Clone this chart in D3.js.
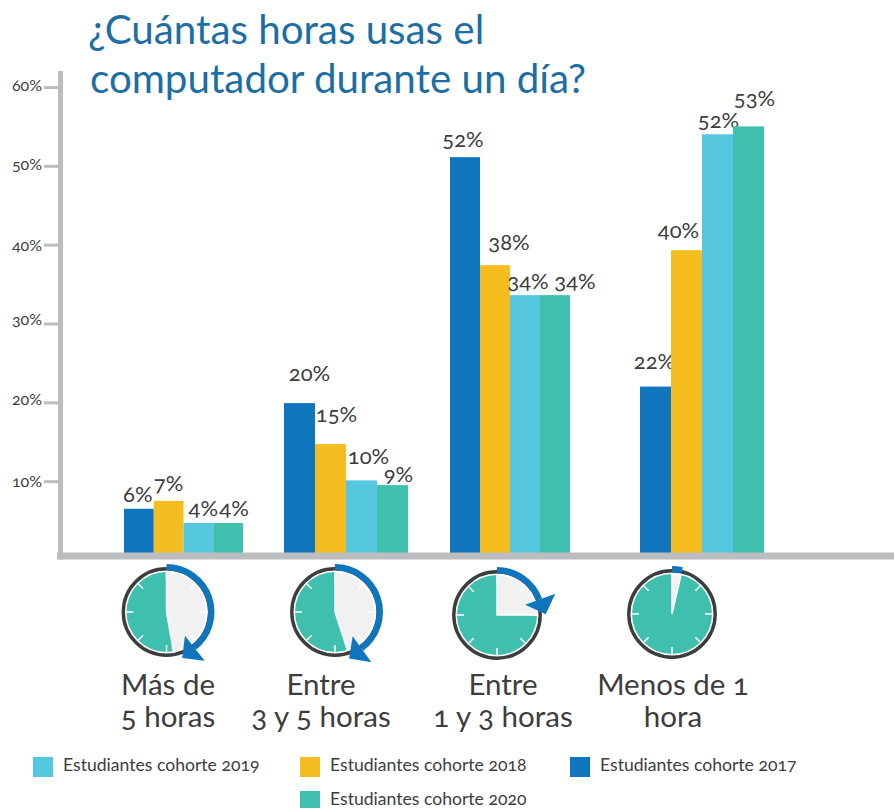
<!DOCTYPE html>
<html>
<head>
<meta charset="utf-8">
<script src="https://cdn.jsdelivr.net/npm/d3@7"></script>
<style>
  html, body { margin: 0; padding: 0; background: #fff; }
  svg { display: block; }
  text { font-family: Lato, "Open Sans", sans-serif; fill: #3d3d3d; font-feature-settings: "onum" 1; }
</style>
</head>
<body>
<svg></svg>
<script>
// data
var categories = ["Más de 5 horas", "Entre 3 y 5 horas", "Entre 1 y 3 horas", "Menos de 1 hora"];
var categoryLines = [["Más de", "5 horas"], ["Entre", "3 y 5 horas"], ["Entre", "1 y 3 horas"], ["Menos de 1", "hora"]];
var cohorts = ["2017", "2018", "2019", "2020"];
// bar heights as drawn (they do not quite agree with the printed labels)
var values2017 = [6.5, 19.9, 51.1, 22];
var values2018 = [7.5, 14.7, 37.4, 39.3];
var values2019 = [4.7, 10.1, 33.6, 54];
var values2020 = [4.7, 9.5, 33.6, 55];
// printed labels
var labels2017 = ["6%", "20%", "52%", "22%"];
var labels2018 = ["7%", "15%", "38%", "40%"];
var labels2019 = ["4%", "10%", "34%", "52%"];
var labels2020 = ["4%", "9%", "34%", "53%"];
var tickValues = [10, 20, 30, 40, 50, 60];
// clock faces: degrees of the pale sector and of the blue arrow
var clockSector = [170, 162, 90, 13];
var clockArrow = [142, 144, 70, 13];
var legendOrder = ["2019", "2018", "2017", "2020"];

var allValues = [values2017, values2018, values2019, values2020];
var allLabels = [labels2017, labels2018, labels2019, labels2020];

var svgWidth = 894, svgHeight = 808;
var colors = { "2017": "#0f75bc", "2018": "#f6bd21", "2019": "#55c8e0", "2020": "#3fbfae" };
var axisGray = "#bcbdbf", titleBlue = "#1c6ea4";

// layout
var axisTop = 553;
var groupEdges = [[124, 243], [284, 408], [450, 570], [640, 764]];
var clockCenters = [[166.5, 612], [335, 612], [497, 615], [672, 614]];
var categoryCenters = [168, 321, 503, 673];
var legendSlots = [[33, 757], [300, 757], [570, 757], [300, 791]];
// label offsets [dx, dy] from the top centre of each bar, by cohort then group
var labelShift = [
  [[-1, -7], [10, -22], [-2, -10], [-1, -18]],
  [[0, -10], [6, -22], [14, -15], [-8, -12]],
  [[5, -7], [7, -16], [3, -6], [1, -6]],
  [[6, -7], [6, -3], [20, -6], [6, -20]]
];
// the tick labels do not sit quite level with their ticks
var tickLabelShift = [0, -3, -4, 1, -1, -2];

var svg = d3.select("svg")
  .attr("width", svgWidth)
  .attr("height", svgHeight);

// scales
var yScale = d3.scaleLinear().domain([0, 60]).range([560, 87]);
var groupScale = d3.scaleOrdinal().domain(categories).range(groupEdges);

function barScale(category) {
  return d3.scaleBand().domain(cohorts).range(groupScale(category));
}

// bars
cohorts.forEach(function (cohort, s) {
  svg.append("g").selectAll("rect")
    .data(allValues[s])
    .enter()
    .append("rect")
    .attr("x", function (d, i) { return barScale(categories[i])(cohort); })
    .attr("width", function (d, i) { return barScale(categories[i]).bandwidth(); })
    .attr("y", function (d) { return yScale(d); })
    .attr("height", function (d) { return axisTop - yScale(d); })
    .attr("fill", colors[cohort]);

  svg.append("g").selectAll("text")
    .data(allLabels[s])
    .enter()
    .append("text")
    .text(function (d) { return d; })
    .attr("text-anchor", "middle")
    .attr("font-size", 22)
    .attr("x", function (d, i) {
      var x = barScale(categories[i]);
      return x(cohort) + x.bandwidth() / 2 + labelShift[s][i][0];
    })
    .attr("y", function (d, i) { return yScale(allValues[s][i]) + labelShift[s][i][1]; });
});

// axes
var yAxis = d3.axisLeft(yScale)
  .tickValues(tickValues)
  .tickSize(14)
  .tickPadding(2)
  .tickFormat(function (d) { return d + "%"; });

var axisG = svg.append("g")
  .attr("transform", "translate(58,0)")
  .call(yAxis);
axisG.select(".domain").remove();
axisG.selectAll(".tick line").attr("stroke", axisGray).attr("stroke-width", 3);
axisG.selectAll(".tick text")
  .attr("font-size", 16)
  .attr("transform", function (d, i) { return "translate(0," + tickLabelShift[i] + ")"; })
  .style("font-family", "Lato, sans-serif")
  .style("fill", "#3d3d3d");

svg.append("line")
  .attr("x1", 60.5).attr("x2", 60.5).attr("y1", 71).attr("y2", 559.5)
  .attr("stroke", axisGray).attr("stroke-width", 5);
svg.append("line")
  .attr("x1", 57).attr("x2", svgWidth).attr("y1", 556).attr("y2", 556)
  .attr("stroke", axisGray).attr("stroke-width", 7);

// title
svg.append("text").text("¿Cuántas horas usas el")
  .attr("x", 88).attr("y", 44).attr("font-size", 40.3).style("fill", titleBlue);
svg.append("text").text("computador durante un día?")
  .attr("x", 90).attr("y", 93).attr("font-size", 40.3).style("fill", titleBlue);

// clocks
var toRad = Math.PI / 180;
var tickAngles = d3.range(0, 360, 45);

clockCenters.forEach(function (c, i) {
  var g = svg.append("g").attr("transform", "translate(" + c[0] + "," + c[1] + ")");

  g.append("circle").attr("r", 43.2)
    .attr("fill", "#fff").attr("stroke", "#3d3d3d").attr("stroke-width", 3.4);
  g.append("circle").attr("r", 40).attr("fill", colors["2020"]);
  g.append("path")
    .attr("d", d3.arc()({ innerRadius: 0, outerRadius: 40, startAngle: 0, endAngle: clockSector[i] * toRad }))
    .attr("fill", "#f1f1f1")
    .attr("stroke", "#fff")
    .attr("stroke-width", 1.5);

  g.selectAll("line.mark")
    .data(tickAngles)
    .enter()
    .append("line")
    .attr("class", "mark")
    .attr("y1", -40).attr("y2", -33)
    .attr("transform", function (d) { return "rotate(" + d + ")"; })
    .attr("stroke", "#fff")
    .attr("stroke-width", 1.5);

  g.append("path")
    .attr("d", d3.arc()({ innerRadius: 41.5, outerRadius: 48, startAngle: 0, endAngle: clockArrow[i] * toRad }))
    .attr("fill", colors["2017"]);

  // arrow head, only where the arrow is long enough to carry one
  if (clockArrow[i] > 30) {
    g.append("path")
      .attr("d", "M0,-62 L0,-30 L16,-46 Z")
      .attr("transform", "rotate(" + clockArrow[i] + ")")
      .attr("fill", colors["2017"]);
  }
});

// category names
categoryLines.forEach(function (lines, i) {
  svg.append("text")
    .attr("text-anchor", "middle")
    .attr("font-size", 29.5)
    .selectAll("tspan")
    .data(lines)
    .enter()
    .append("tspan")
    .text(function (d) { return d; })
    .attr("x", categoryCenters[i])
    .attr("y", function (d, k) { return 695 + k * 32; });
});

// legend
legendOrder.forEach(function (cohort, i) {
  var slot = legendSlots[i];
  svg.append("rect")
    .attr("x", slot[0]).attr("y", slot[1])
    .attr("width", 20).attr("height", 20)
    .attr("fill", colors[cohort]);
  svg.append("text")
    .text("Estudiantes cohorte " + cohort)
    .attr("x", slot[0] + 30)
    .attr("y", slot[1] + 14)
    .attr("font-size", 17.6);
});
</script>
</body>
</html>
